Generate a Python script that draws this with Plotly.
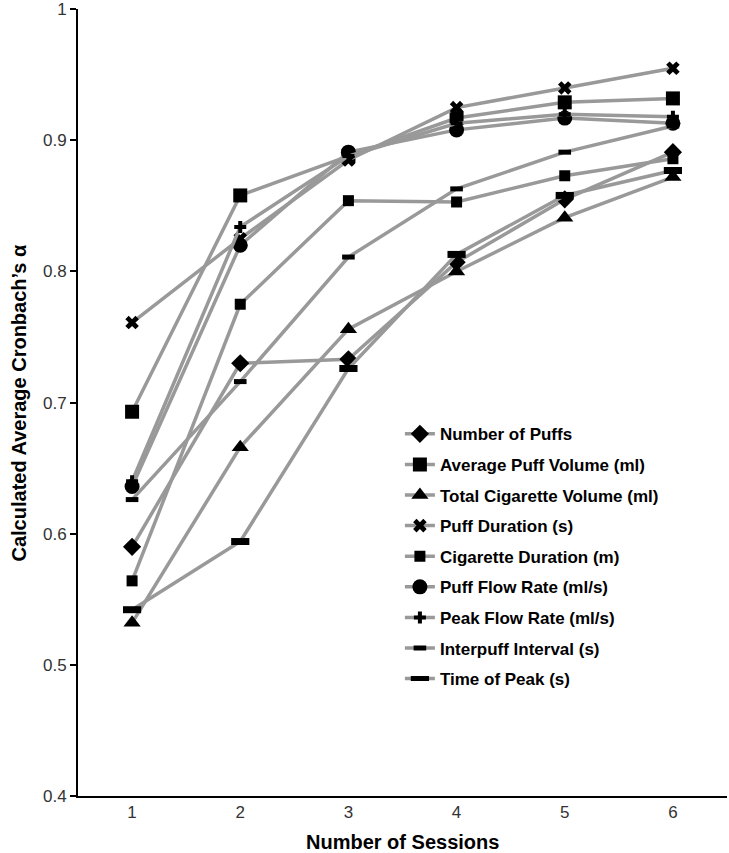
import plotly.graph_objects as go

sessions = [1, 2, 3, 4, 5, 6]

series_names = [
    "Number of Puffs",
    "Average Puff Volume (ml)",
    "Total Cigarette Volume (ml)",
    "Puff Duration (s)",
    "Cigarette Duration (m)",
    "Puff Flow Rate (ml/s)",
    "Peak Flow Rate (ml/s)",
    "Interpuff Interval (s)",
    "Time of Peak (s)",
]

number_of_puffs = [0.590, 0.730, 0.733, 0.807, 0.855, 0.891]
average_puff_volume = [0.693, 0.858, 0.888, 0.917, 0.929, 0.932]
total_cigarette_volume = [0.532, 0.666, 0.756, 0.800, 0.841, 0.872]
puff_duration = [0.761, 0.825, 0.885, 0.925, 0.940, 0.955]
cigarette_duration = [0.564, 0.775, 0.854, 0.853, 0.873, 0.886]
puff_flow_rate = [0.636, 0.820, 0.891, 0.908, 0.917, 0.913]
peak_flow_rate = [0.640, 0.834, 0.888, 0.913, 0.920, 0.918]
interpuff_interval = [0.626, 0.716, 0.811, 0.863, 0.891, 0.911]
time_of_peak = [0.542, 0.594, 0.726, 0.813, 0.858, 0.877]

values = [
    number_of_puffs, average_puff_volume, total_cigarette_volume,
    puff_duration, cigarette_duration, puff_flow_rate,
    peak_flow_rate, interpuff_interval, time_of_peak,
]

y_tick_vals = [0.4, 0.5, 0.6, 0.7, 0.8, 0.9, 1.0]
y_tick_text = ["0.4", "0.5", "0.6", "0.7", "0.8", "0.9", "1"]

# marker styles: (symbol, size, line width)
styles = [
    ("diamond", 14, 0),
    ("square", 14, 0),
    ("triangle-up", 15, 0),
    ("x", 12, 0),
    ("square", 11, 0),
    ("circle", 15, 0),
    ("cross", 10, 0),
    ("line-ew-open", 9, 5),
    ("line-ew-open", 13, 7),
]

LINE_COLOR = "#999999"
fig = go.Figure()
for i, (name, vals) in enumerate(zip(series_names, values)):
    sym, sz, lw = styles[i]
    marker = dict(symbol=sym, size=sz, color="black")
    if lw:
        marker["line"] = dict(color="black", width=lw)
    else:
        marker["line"] = dict(width=0)
    fig.add_trace(go.Scatter(
        x=sessions, y=vals, name=name, mode="lines+markers",
        line=dict(color=LINE_COLOR, width=3.5),
        marker=marker, legendgroup=name,
    ))

title_font = dict(family="Liberation Sans Narrow, Arial Narrow, Liberation Sans, Arial", size=20, color="black")

fig.update_layout(
    width=729, height=853,
    margin=dict(l=78, r=2, t=9, b=57, autoexpand=False),
    plot_bgcolor="white", paper_bgcolor="white",
    font=dict(family="Liberation Sans, Arial", color="black"),
    showlegend=True,
    legend=dict(
        x=0.496, y=0.4825, xanchor="left", yanchor="top",
        font=dict(family="Liberation Sans, Arial", size=17, color="black", weight="bold"),
        traceorder="grouped", tracegroupgap=5.5,
        bgcolor="rgba(0,0,0,0)",
    ),
    xaxis=dict(
        range=[0.5, 6.5], tickvals=sessions, ticktext=[str(s) for s in sessions],
        showline=True, linecolor="black", linewidth=2, ticks="",
        showgrid=False, zeroline=False, automargin=False,
        tickfont=dict(size=17, color="#333333"),
    ),
    yaxis=dict(
        range=[0.3999, 1.0002], tickvals=y_tick_vals, ticktext=y_tick_text,
        showline=True, linecolor="black", linewidth=2, ticks="outside", ticklen=6,
        tickcolor="black", tickwidth=2,
        showgrid=False, zeroline=False, automargin=False,
        tickfont=dict(size=17, color="#333333"),
    ),
    annotations=[
        dict(text="<b>Number of Sessions</b>", xref="paper", yref="paper",
             x=0.5, y=0, yshift=-46, xanchor="center", yanchor="middle",
             showarrow=False, font=title_font),
        dict(text="<b>Calculated Average Cronbach\u2019s \u03b1</b>", xref="paper", yref="paper",
             x=0, y=0.5, xshift=-60, xanchor="center", yanchor="middle", textangle=-90,
             showarrow=False, font=title_font),
    ],
)

fig.write_html(
    "out.html",
    config={"displayModeBar": False},
    post_script="document.body.style.margin='0';document.body.style.overflow='hidden';",
)
